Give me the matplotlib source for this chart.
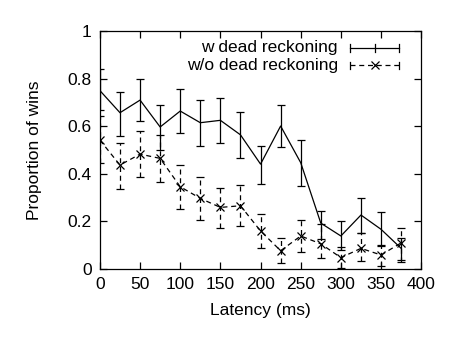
import matplotlib
matplotlib.use("Agg")
import matplotlib.pyplot as plt
from matplotlib.lines import Line2D

latency = [0, 25, 50, 75, 100, 125, 150, 175, 200, 225, 250, 275, 300, 325, 350, 375]

w_mean = [0.75, 0.657, 0.71, 0.597, 0.664, 0.615, 0.625, 0.564, 0.441, 0.601, 0.447, 0.193, 0.139, 0.227, 0.167, 0.087]
w_top = [0.839, 0.746, 0.80, 0.689, 0.755, 0.710, 0.717, 0.661, 0.518, 0.689, 0.542, 0.244, 0.202, 0.298, 0.239, 0.13]
w_bot = [0.668, 0.559, 0.623, 0.499, 0.571, 0.518, 0.528, 0.466, 0.356, 0.514, 0.349, 0.126, 0.080, 0.150, 0.097, 0.04]

wo_mean = [0.542, 0.437, 0.483, 0.465, 0.346, 0.297, 0.259, 0.266, 0.160, 0.077, 0.139, 0.106, 0.048, 0.087, 0.059, 0.11]
wo_top = [0.643, 0.531, 0.581, 0.563, 0.438, 0.385, 0.342, 0.353, 0.230, 0.132, 0.206, 0.189, 0.094, 0.150, 0.10, 0.172]
wo_bot = [0.447, 0.336, 0.388, 0.367, 0.252, 0.206, 0.171, 0.179, 0.087, 0.027, 0.070, 0.048, 0.003, 0.035, 0.014, 0.03]

labels = ["w dead reckoning", "w/o dead reckoning"]
xticks = [0, 50, 100, 150, 200, 250, 300, 350, 400]
yticks = [0, 0.2, 0.4, 0.6, 0.8, 1]
yticklabels = ["0", "0.2", "0.4", "0.6", "0.8", "1"]

plt.rcParams['font.family'] = ['Liberation Sans', 'DejaVu Sans']
plt.rcParams['font.size'] = 12.5

fig = plt.figure(figsize=(4.5, 3.38), dpi=100)
ax = fig.add_axes([0.222, 0.204, 0.714, 0.704])

lw = 0.9
e1 = ax.errorbar(latency, w_mean,
                 yerr=[[m - b for m, b in zip(w_mean, w_bot)], [t - m for m, t in zip(w_mean, w_top)]],
                 color='black', lw=lw, elinewidth=lw, capsize=3, capthick=lw)
e2 = ax.errorbar(latency, wo_mean,
                 yerr=[[m - b for m, b in zip(wo_mean, wo_bot)], [t - m for m, t in zip(wo_mean, wo_top)]],
                 color='black', lw=lw, elinewidth=lw, capsize=3, capthick=lw,
                 ls=(0, (4, 3)), marker='x', ms=6, mew=lw)
for bc in e2[2]:
    bc.set_linestyle((0, (4, 3)))

ax.set_xlim(0, 400)
ax.set_ylim(0, 1)
ax.set_xticks(xticks)
ax.set_yticks(yticks)
ax.set_yticklabels(yticklabels)
ax.tick_params(direction='in', top=True, right=True, length=5, width=lw, pad=6)
for s in ax.spines.values():
    s.set_linewidth(lw)
ax.set_xlabel("Latency (ms)", labelpad=8)
ax.set_ylabel("Proportion of wins", labelpad=18)

# gnuplot-style legend (key) at top-right
tr = ax.transAxes
rows_y = [0.929, 0.857]
tx = 0.741
x0, x1 = 0.779, 0.931
for i, (lab, y) in enumerate(zip(labels, rows_y)):
    ax.text(tx, y, lab, transform=tr, ha='right', va='center')
    ls = '-' if i == 0 else (0, (4, 3))
    ax.add_line(Line2D([x0, x1], [y, y], transform=tr, color='black', lw=lw, ls=ls))
    for xx in (x0, x1):
        ax.add_line(Line2D([xx, xx], [y - 0.015, y + 0.015], transform=tr, color='black', lw=lw))
    if i == 0:
        ax.add_line(Line2D([(x0 + x1) / 2] * 2, [y - 0.015, y + 0.015], transform=tr, color='black', lw=lw))
    else:
        ax.add_line(Line2D([(x0 + x1) / 2], [y], transform=tr, color='black', marker='x', ms=6, mew=lw))

fig.savefig("out.png", dpi=100)
